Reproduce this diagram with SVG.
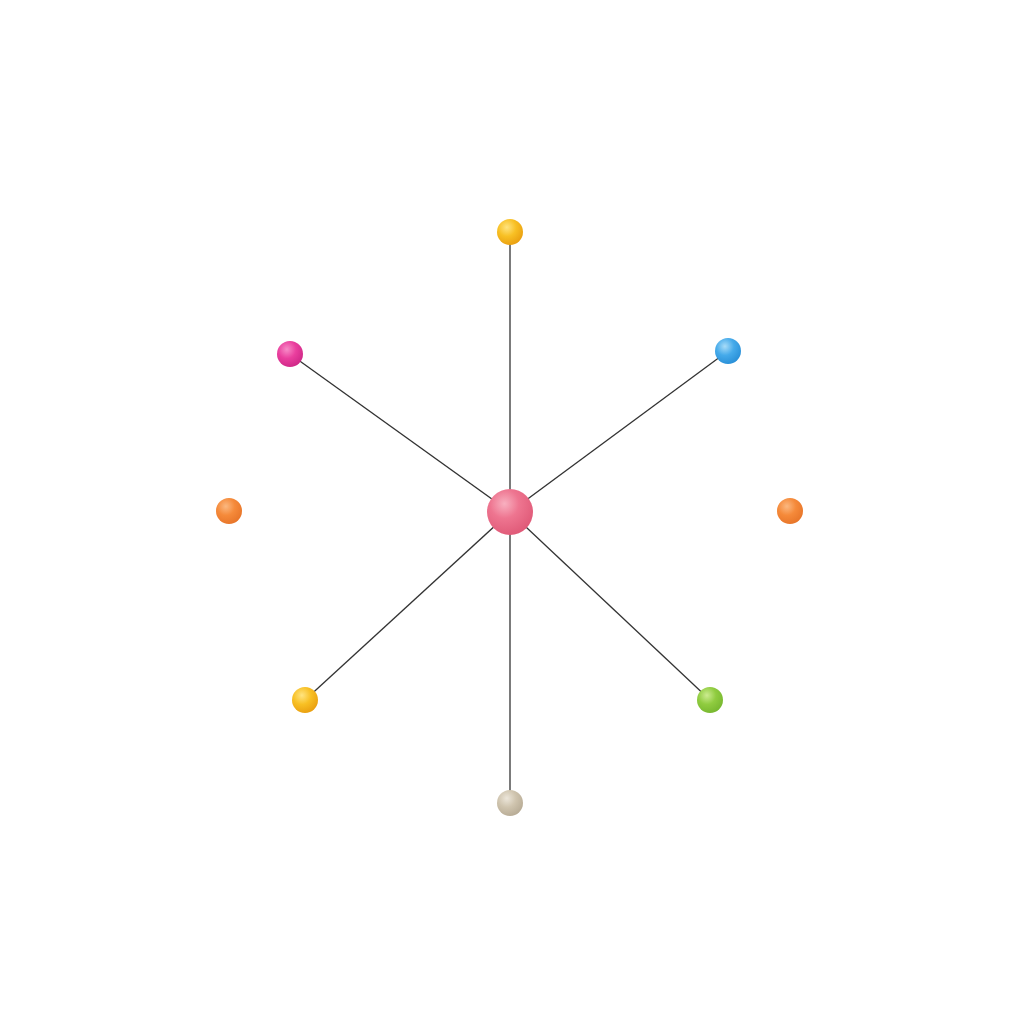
<svg xmlns="http://www.w3.org/2000/svg" width="1024" height="1024" viewBox="0 0 1024 1024">
<defs>
<radialGradient id="gPink" cx="0.38" cy="0.32" r="0.7"><stop offset="0" stop-color="#f8b0c0"/><stop offset="0.45" stop-color="#ee7590"/><stop offset="1" stop-color="#e05a78"/></radialGradient>
<radialGradient id="gYellow" cx="0.38" cy="0.32" r="0.7"><stop offset="0" stop-color="#ffe480"/><stop offset="0.5" stop-color="#f8c024"/><stop offset="1" stop-color="#eaa010"/></radialGradient>
<radialGradient id="gMag" cx="0.38" cy="0.32" r="0.7"><stop offset="0" stop-color="#f78cc8"/><stop offset="0.5" stop-color="#ea3f9e"/><stop offset="1" stop-color="#d02888"/></radialGradient>
<radialGradient id="gBlue" cx="0.38" cy="0.32" r="0.7"><stop offset="0" stop-color="#a8dcf8"/><stop offset="0.5" stop-color="#45aaea"/><stop offset="1" stop-color="#2a90d8"/></radialGradient>
<radialGradient id="gOrange" cx="0.38" cy="0.32" r="0.7"><stop offset="0" stop-color="#fbb880"/><stop offset="0.5" stop-color="#f58a3a"/><stop offset="1" stop-color="#e8762a"/></radialGradient>
<radialGradient id="gGreen" cx="0.38" cy="0.32" r="0.7"><stop offset="0" stop-color="#cceb90"/><stop offset="0.5" stop-color="#90cc40"/><stop offset="1" stop-color="#78b830"/></radialGradient>
<radialGradient id="gBeige" cx="0.38" cy="0.32" r="0.7"><stop offset="0" stop-color="#ece6da"/><stop offset="0.5" stop-color="#cfc4ae"/><stop offset="1" stop-color="#b8ac96"/></radialGradient>
</defs>
<style>
.edge{stroke:#333;stroke-width:1.3;fill:none}
</style>
<rect width="1024" height="1024" fill="#ffffff"/>
<g id="connectors">
<line class="edge" x1="510" y1="512" x2="510" y2="232"/>
<line class="edge" x1="510" y1="512" x2="290" y2="354"/>
<line class="edge" x1="510" y1="512" x2="728" y2="351"/>
<line class="edge" x1="510" y1="512" x2="305" y2="700"/>
<line class="edge" x1="510" y1="512" x2="710" y2="700"/>
<line class="edge" x1="510" y1="512" x2="510" y2="803"/>
</g>
<g id="center"><circle cx="510" cy="512" r="23" fill="url(#gPink)"/></g>
<g id="n-top"><circle cx="510" cy="232" r="13" fill="url(#gYellow)"/></g>
<g id="n-topleft"><circle cx="290" cy="354" r="13" fill="url(#gMag)"/></g>
<g id="n-topright"><circle cx="728" cy="351" r="13" fill="url(#gBlue)"/></g>
<g id="n-left"><circle cx="229" cy="511" r="13" fill="url(#gOrange)"/></g>
<g id="n-right"><circle cx="790" cy="511" r="13" fill="url(#gOrange)"/></g>
<g id="n-bottomleft"><circle cx="305" cy="700" r="13" fill="url(#gYellow)"/></g>
<g id="n-bottomright"><circle cx="710" cy="700" r="13" fill="url(#gGreen)"/></g>
<g id="n-bottom"><circle cx="510" cy="803" r="13" fill="url(#gBeige)"/></g>
</svg>
